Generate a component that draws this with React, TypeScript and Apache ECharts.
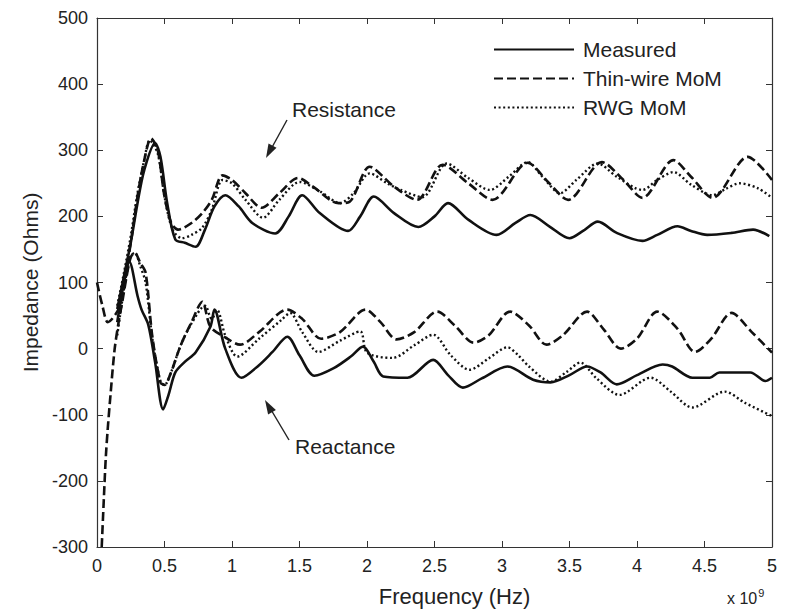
import React, { useEffect, useRef } from "react";
import * as echarts from "echarts";

// Frequency in units of 1e9 Hz, impedance in Ohms
const measuredResF = [0.15, 0.2, 0.25, 0.3, 0.35, 0.43, 0.47, 0.52, 0.58, 0.65, 0.73, 0.8, 0.87, 0.95, 1.05, 1.15, 1.32, 1.42, 1.52, 1.65, 1.86, 1.95, 2.05, 2.2, 2.38, 2.5, 2.6, 2.75, 2.96, 3.1, 3.21, 3.35, 3.5, 3.6, 3.71, 3.85, 4.04, 4.15, 4.3, 4.4, 4.52, 4.7, 4.86, 4.98];
const measuredResZ = [60, 110, 160, 220, 270, 311, 290, 220, 165, 160, 154, 180, 215, 232, 215, 190, 174, 200, 232, 205, 178, 200, 230, 205, 184, 200, 220, 195, 172, 190, 202, 185, 167, 178, 192, 175, 163, 172, 185, 178, 172, 175, 180, 170];

const measuredReaF = [0.15, 0.2, 0.24, 0.3, 0.33, 0.38, 0.43, 0.49, 0.53, 0.58, 0.65, 0.73, 0.84, 0.87, 0.95, 1.07, 1.2, 1.3, 1.41, 1.5, 1.61, 1.75, 1.88, 1.97, 2.05, 2.12, 2.3, 2.49, 2.6, 2.71, 2.85, 3.04, 3.23, 3.36, 3.5, 3.63, 3.73, 3.85, 4.0, 4.19, 4.26, 4.41, 4.54, 4.61, 4.84, 4.95, 5.0];
const measuredReaZ = [40, 100, 131, 80, 59, 36, -20, -92, -70, -36, -20, -6, 33, 59, 0, -44, -25, -5, 18, -10, -41, -30, -12, 3, -20, -42, -44, -17, -40, -59, -45, -27, -47, -51, -40, -27, -36, -54, -40, -24, -27, -44, -44, -36, -36, -49, -44];

const thinResF = [0, 0.04, 0.08, 0.17, 0.25, 0.3, 0.35, 0.4, 0.45, 0.5, 0.55, 0.6, 0.7, 0.78, 0.85, 0.93, 1.0, 1.1, 1.22, 1.35, 1.49, 1.6, 1.79, 1.87, 2.02, 2.2, 2.37, 2.56, 2.75, 2.93, 3.19, 3.35, 3.49, 3.74, 3.9, 4.04, 4.27, 4.4, 4.56, 4.82, 5.0];
const thinResZ = [100, 65, 40, 65, 160, 230, 285, 318, 300, 230, 190, 180, 190, 205, 225, 262, 255, 235, 213, 235, 258, 245, 220, 222, 275, 245, 225, 278, 250, 225, 281, 250, 225, 282, 255, 228, 285, 260, 228, 290, 255];

const thinReaF = [0.035, 0.05, 0.065, 0.08, 0.1, 0.13, 0.16, 0.19, 0.22, 0.25, 0.28, 0.32, 0.36, 0.41, 0.47, 0.5, 0.55, 0.62, 0.7, 0.78, 0.84, 0.95, 1.06, 1.2, 1.41, 1.52, 1.66, 1.8, 1.99, 2.1, 2.22, 2.35, 2.52, 2.65, 2.79, 2.9, 3.06, 3.2, 3.33, 3.45, 3.63, 3.75, 3.88, 4.0, 4.15, 4.3, 4.43, 4.55, 4.7, 4.85, 5.0];
const thinReaZ = [-300, -230, -165, -120, -70, -2, 40, 74, 110, 138, 145, 130, 115, 18, -51, -55, -35, 5, 40, 71, 33, 17, 6, 25, 59, 45, 15, 25, 59, 40, 14, 25, 56, 35, 9, 20, 56, 35, 6, 20, 56, 30, 0, 15, 56, 30, -5, 15, 54, 25, -6];

const rwgResF = [0.15, 0.2, 0.25, 0.3, 0.35, 0.39, 0.45, 0.5, 0.56, 0.63, 0.7, 0.78, 0.85, 0.93, 1.0, 1.1, 1.23, 1.35, 1.5, 1.65, 1.8, 1.9, 2.02, 2.15, 2.25, 2.41, 2.59, 2.75, 2.91, 3.05, 3.19, 3.3, 3.43, 3.55, 3.71, 3.85, 4.04, 4.15, 4.27, 4.4, 4.56, 4.66, 4.76, 4.9, 5.0];
const rwgResZ = [65, 115, 170, 235, 285, 315, 295, 230, 180, 167, 172, 183, 210, 255, 250, 225, 198, 225, 252, 238, 220, 235, 265, 250, 240, 229, 280, 258, 240, 260, 282, 260, 235, 255, 280, 260, 240, 255, 267, 248, 232, 242, 250, 242, 228];

const rwgReaF = [0.15, 0.2, 0.25, 0.28, 0.32, 0.36, 0.41, 0.47, 0.5, 0.55, 0.62, 0.7, 0.8, 0.85, 0.89, 0.95, 1.04, 1.2, 1.37, 1.43, 1.52, 1.64, 1.8, 1.95, 2.0, 2.19, 2.35, 2.49, 2.62, 2.76, 2.9, 3.04, 3.12, 3.2, 3.36, 3.48, 3.58, 3.7, 3.87, 4.1, 4.25, 4.41, 4.65, 4.8, 5.0];
const rwgReaZ = [20, 90, 140, 145, 125, 100, 15, -50, -55, -35, 5, 38, 65, 45, 58, 20, -12, 15, 44, 54, 25, -5, 12, 26, -6, -14, 5, 21, -10, -32, -15, 2, -10, -27, -50, -35, -21, -45, -70, -44, -65, -89, -65, -82, -102];

const xTicks = [0, 0.5, 1, 1.5, 2, 2.5, 3, 3.5, 4, 4.5, 5];
const seriesNames = ["Measured", "Thin-wire MoM", "RWG MoM"];

const FONT = "Liberation Sans, Arial, Helvetica, sans-serif";

function pairs(f: number[], z: number[]) {
  return f.map((v, i) => [v, z[i]]);
}

export default function App() {
  const ref = useRef<HTMLDivElement>(null);
  useEffect(() => {
    if (!ref.current) return;
    const chart = echarts.init(ref.current, undefined, { renderer: "svg" });
    const solid = { color: "#111", width: 2.6, type: "solid" as const };
    const dashed = { color: "#111", width: 2.6, type: [9, 4] as any };
    const dotted = { color: "#111", width: 2.4, type: [2, 2.6] as any };
    const mk = (name: string, data: number[][], ls: any) => ({
      name,
      type: "line",
      data,
      showSymbol: false,
      symbol: "none",
      smooth: 0.3,
      lineStyle: ls,
      itemStyle: { color: "#111" },
      z: 3,
    });
    const axisCommon = {
      axisLine: { show: true, onZero: false, lineStyle: { color: "#333", width: 1.2 } },
      axisTick: { show: true, inside: true, length: 6, lineStyle: { color: "#333" } },
      splitLine: { show: false },
    };
    chart.setOption({
      animation: false,
      backgroundColor: "#fff",
      textStyle: { fontFamily: FONT },
      grid: { left: 97, right: 18, top: 18, bottom: 64 },
      legend: {
        data: seriesNames,
        orient: "vertical",
        left: 488,
        top: 34,
        itemWidth: 80,
        itemHeight: 14,
        itemGap: 8,
        itemStyle: { opacity: 0 },
        textStyle: { fontSize: 21, color: "#222", fontFamily: FONT, padding: [0, 0, 0, 4] },
      },
      xAxis: [
        {
          type: "value",
          min: 0,
          max: 5,
          interval: 0.5,
          position: "bottom",
          ...axisCommon,
          axisLabel: {
            fontSize: 18,
            color: "#222",
            margin: 10,
            fontFamily: FONT,
            formatter: (v: number) => (xTicks.includes(v) ? String(v) : ""),
          },
          name: "Frequency (Hz)",
          nameLocation: "middle",
          nameGap: 38,
          nameTextStyle: { fontSize: 22, color: "#222", fontFamily: FONT, padding: [0, 0, 0, 40] },
        },
        {
          type: "value",
          min: 0,
          max: 5,
          interval: 0.5,
          position: "top",
          ...axisCommon,
          axisLabel: { show: false },
        },
      ],
      yAxis: [
        {
          type: "value",
          min: -300,
          max: 500,
          interval: 100,
          position: "left",
          ...axisCommon,
          axisLabel: { fontSize: 18, color: "#222", margin: 9, fontFamily: FONT },
          name: "Impedance (Ohms)",
          nameLocation: "middle",
          nameGap: 56,
          nameTextStyle: { fontSize: 21, color: "#222", fontFamily: FONT },
        },
        {
          type: "value",
          min: -300,
          max: 500,
          interval: 100,
          position: "right",
          ...axisCommon,
          axisLabel: { show: false },
        },
      ],
      series: [
        mk("Measured", pairs(measuredResF, measuredResZ), solid),
        mk("Thin-wire MoM", pairs(thinResF, thinResZ), dashed),
        mk("RWG MoM", pairs(rwgResF, rwgResZ), dotted),
        mk("Measured", pairs(measuredReaF, measuredReaZ), solid),
        mk("Thin-wire MoM", pairs(thinReaF, thinReaZ), dashed),
        mk("RWG MoM", pairs(rwgReaF, rwgReaZ), dotted),
      ],
      graphic: [
        {
          type: "text",
          left: 292,
          top: 99,
          style: { text: "Resistance", fontSize: 21, fill: "#222", fontFamily: FONT },
        },
        {
          type: "line",
          shape: { x1: 287, y1: 120, x2: 270, y2: 151 },
          style: { stroke: "#222", lineWidth: 1.4 },
        },
        {
          type: "polygon",
          shape: { points: [[266, 158], [276.5, 147.7], [268.5, 143.5]] },
          style: { fill: "#222" },
        },
        {
          type: "text",
          left: 295,
          top: 436,
          style: { text: "Reactance", fontSize: 21, fill: "#222", fontFamily: FONT },
        },
        {
          type: "line",
          shape: { x1: 289, y1: 440, x2: 270, y2: 408 },
          style: { stroke: "#222", lineWidth: 1.4 },
        },
        {
          type: "polygon",
          shape: { points: [[265, 400], [275.9, 410], [268.1, 414.4]] },
          style: { fill: "#222" },
        },
        {
          type: "text",
          left: 727,
          top: 587,
          style: {
            text: "{a|x 10}{b|9}",
            fontFamily: FONT,
            rich: {
              a: { fontSize: 16, fill: "#222", fontFamily: FONT, verticalAlign: "bottom" },
              b: { fontSize: 11, fill: "#222", fontFamily: FONT, verticalAlign: "top", padding: [0, 0, 8, 1] },
            },
          },
        },
      ],
    });
    return () => chart.dispose();
  }, []);
  return (
    <div
      ref={ref}
      style={{ position: "fixed", left: 0, top: 0, width: 790, height: 612, background: "#fff" }}
    />
  );
}
